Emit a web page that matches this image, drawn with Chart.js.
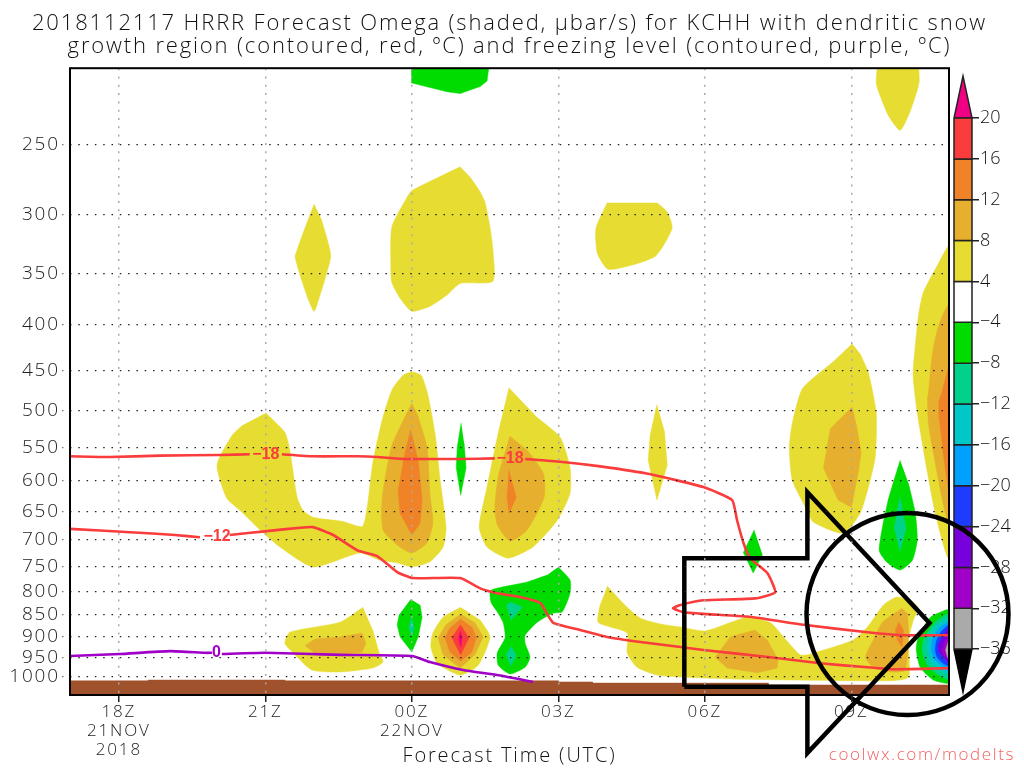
<!DOCTYPE html>
<html>
<head>
<meta charset="utf-8">
<style>
  body { margin: 0; background: #fff; }
  canvas { position: absolute; left: 0; top: 0; }
  #main { z-index: 2; }
</style>
<script src="https://cdn.jsdelivr.net/npm/chart.js@4/dist/chart.umd.min.js"></script>
</head>
<body>
<canvas id="bar" width="1024" height="768"></canvas>
<canvas id="main" width="1024" height="768"></canvas>
<script>
// x = hours counted from 00Z on 21 Nov, y = pressure in hPa
const titleLines = [
  '2018112117 HRRR Forecast Omega (shaded, μbar/s) for KCHH with dendritic snow',
  'growth region (contoured, red, ºC) and freezing level (contoured, purple, ºC)'
];
const xTicks = [18, 21, 24, 27, 30, 33];
const xLabels = [['18Z', '21NOV', '2018'], ['21Z'], ['00Z', '22NOV'], ['03Z'], ['06Z'], ['09Z']];
const yTicks = [250, 300, 350, 400, 450, 500, 550, 600, 650, 700, 750, 800, 850, 900, 950, 1000];

const barLabels = ['20', '16', '12', '8', '4', '−4', '−8', '−12', '−16', '−20', '−24', '−28', '−32', '−36'];
const barColors = ['#fa3c3c', '#f08228', '#e6af2d', '#e6dc32', '#ffffff', '#00dc00', '#00d28c', '#00c8c8', '#00a0ff', '#1e3cff', '#7800dc', '#a000c8', '#aaaaaa'];

const YELLOW = '#e6dc32', ORANGE = '#e6af2d', DARK = '#f08228', RED = '#fa3c3c', PINK = '#f00082';
const GREEN = '#00dc00', TEAL = '#00d28c', CYAN = '#00c8c8', AZURE = '#00a0ff', BLUE = '#1e3cff';
const VIOLET = '#7800dc', PURPLE = '#a000c8', GRAY = '#aaaaaa';

// omega contours
const greenTop = [[24,200],[24,213],[24.72,218],[24.99,219],[25.4,215],[25.54,212],[25.6,200]];
const yellowTopRight = [[33.55,200],[33.51,213],[33.6,221],[33.76,232],[34,241],[34.21,229],[34.35,217],[34.39,212],[34.37,200]];
const yellowLens = [[22,292],[21.81,311],[21.65,329],[21.61,335],[21.71,351],[21.87,373],[22,386],[22.12,370],[22.26,349],[22.34,334],[22.26,319],[22.14,303]];
const yellowUpper = [[24.99,265],[24,282],[23.9,287],[23.59,310],[23.57,344],[23.59,358],[23.76,373],[24,386],[24.37,381],[24.72,370],[24.99,359],[25.66,357],[25.66,329],[25.6,310],[25.5,291],[25.4,283],[25.19,272]];
const yellowCloud = [[28,291],[27.77,311],[27.8,332],[28.02,346],[28.53,342],[29,334],[29.33,311],[29.23,298],[29.02,291]];

const yellowWide = [[21.01,503],[21.4,529],[21.5,554],[21.65,626],[21.77,648],[21.98,660],[22.59,667],[23,675],[23.2,573],[23.39,513],[23.59,474],[23.82,456],[24,452],[24.19,456],[24.33,480],[24.48,533],[24.58,599],[24.7,677],[24.64,713],[24.37,741],[24,751],[23.7,743],[23.35,738],[22.94,724],[21.98,751],[21.3,713],[20.89,682],[20.48,648],[20.21,628],[20.01,576],[20.32,533],[20.54,519]];
const orangeMid = [[24,490],[23.61,544],[23.49,580],[23.39,631],[23.41,682],[23.7,709],[24,724],[24.31,705],[24.43,670],[24.37,620],[24.31,550],[24.11,504]];
const darkMid = [[23.98,525],[23.86,558],[23.72,615],[23.76,653],[24,691],[24.17,670],[24.21,631],[24.13,569]];
const greenSliver = [[25.01,516],[24.93,550],[24.91,580],[25,623],[25.11,580],[25.07,544]];
const yellowTwin = [[25.99,471],[25.75,536],[25.54,610],[25.38,677],[25.54,713],[25.97,734],[26.48,713],[26.98,665],[27.24,620],[27.24,580],[27.04,536],[26.57,509]];
const orangeTwin = [[26.01,534],[25.77,594],[25.7,643],[25.75,673],[26.01,702],[26.36,682],[26.71,626],[26.69,588],[26.36,554]];
const darkTwin = [[25.99,584],[25.95,626],[25.99,653],[26.14,626]];
const yellowSliver = [[29.02,492],[28.88,533],[28.84,569],[29.02,631],[29.23,576],[29.17,526]];

const yellowNine = [[33.02,420],[32.61,441],[32,472],[31.79,517],[31.73,550],[31.79,599],[32.06,643],[32.22,668],[32.84,688],[33.18,653],[33.35,610],[33.49,564],[33.51,503],[33.35,453],[33.18,431]];
const orangeNine = [[33.02,495],[32.57,524],[32.43,580],[32.73,631],[33,643],[33.14,588],[33.2,558],[33.1,517]];
const greenTen = [[34,569],[33.74,636],[33.57,719],[33.74,743],[34,757],[34.25,738],[34.35,700],[34.31,653],[34.17,604]];
const tealTen = [[34,625],[33.88,678],[34,721],[34.12,678]];
const yellowEdge = [[35.2,325],[35,325],[34.78,341],[34.47,368],[34.37,392],[34.27,447],[34.27,462],[34.35,503],[34.56,588],[34.72,653],[34.98,734],[35.2,734]];
const orangeEdge = [[35.2,380],[34.98,380],[34.78,402],[34.66,431],[34.58,478],[34.56,483],[34.58,517],[34.72,573],[34.88,636],[34.98,665],[35.2,665]];
const darkEdge = [[35.2,448],[34.98,448],[34.85,478],[34.8,487],[34.8,509],[34.88,558],[34.98,610],[35.2,610]];

const yellowLow = [[23,834],[22.53,867],[21.5,890],[21.4,916],[21.57,939],[21.95,982],[22.53,987],[23.2,977],[23.41,962],[23.33,939],[23.2,885]];
const orangeLow = [[21.81,922],[22.02,906],[22.53,901],[22.98,892],[23.06,916],[22.98,937],[22.53,944],[22.08,947]];
const greenZero = [[23.98,817],[23.74,851],[23.7,873],[23.76,901],[24,937],[24.13,901],[24.21,856],[24.17,829]];
const tealZero = [[24,856],[23.94,878],[24,900],[24.05,878]];

const hotYellow = [[25,834],[24.64,856],[24.43,892],[24.39,925],[24.52,965],[24.99,995],[25.36,970],[25.6,901],[25.4,862]];
const hotOrange = [[25,849],[24.7,873],[24.54,903],[24.64,944],[24.99,977],[25.29,944],[25.46,901],[25.29,868]];
const hotDark = [[25,860],[24.78,880],[24.68,903],[24.78,937],[25,960],[25.23,937],[25.32,903],[25.23,878]];
const hotRed = [[25,873],[24.82,903],[25,944],[25.17,903]];
const hotPink = [[25,887],[24.96,903],[25,925],[25.03,903]];

const greenTwo = [[27,751],[27.24,777],[27.24,804],[27.08,844],[26.89,847],[26.57,867],[26.32,897],[26.32,916],[26.42,950],[26.32,975],[26.01,992],[25.77,970],[25.75,939],[25.91,903],[25.87,868],[25.75,844],[25.62,823],[25.62,798],[26.36,781],[26.77,767]];
const tealTwoUp = [[25.93,829],[26.03,823],[26.26,834],[26.03,862]];
const tealTwoLow = [[26.03,923],[25.93,944],[26.03,972],[26.14,944]];
const greenSeven = [[31.01,682],[30.79,723],[30.99,763],[31.18,727]];

const yellowLong = [[28,789],[28.41,834],[28.68,858],[29.09,871],[29.5,878],[30.01,887],[30.87,856],[31.34,868],[31.61,901],[31.95,944],[32.1,944],[33.04,908],[33.33,878],[33.66,829],[33.94,812],[34.27,823],[34.37,836],[34.27,862],[34.17,908],[34.17,1000],[33.74,1010],[30.46,1005],[29.5,1000],[29.02,995],[28.61,975],[28.41,939],[28.41,892],[27.82,868],[27.84,836],[27.92,812]];
const orangeSeven = [[31.03,885],[30.52,901],[30.21,950],[30.46,977],[31.07,989],[31.48,977],[31.5,957],[31.28,908]];
const orangeTen = [[34.04,836],[33.64,867],[33.45,908],[33.29,950],[33.45,975],[33.8,987],[34.1,982],[34.17,892],[34.15,847]];
const darkTen = [[33.98,867],[33.9,885],[33.94,908],[34.04,925],[34.07,885]];

const eyeGreen = [[35.2,838],[35,838],[34.62,856],[34.37,901],[34.33,932],[34.41,975],[34.68,1008],[35,1018],[35.2,1018]];
const eyeTeal = [[35.2,847],[35,847],[34.72,867],[34.5,901],[34.45,932],[34.56,970],[34.78,995],[35,1008],[35.2,1008]];
const eyeCyan = [[35.2,858],[35,858],[34.76,873],[34.58,903],[34.56,932],[34.62,962],[34.82,982],[35,995],[35.2,995]];
const eyeAzure = [[35.2,867],[35,867],[34.8,880],[34.66,908],[34.64,932],[34.7,954],[34.86,972],[35,985],[35.2,985]];
const eyeBlue = [[35.2,873],[35,873],[34.82,892],[34.74,913],[34.72,932],[34.76,950],[34.88,965],[35,972],[35.2,972]];
const eyeViolet = [[35.2,880],[35,880],[34.88,901],[34.8,916],[34.78,932],[34.84,944],[34.93,954],[35,965],[35.2,965]];
const eyePurple = [[35.2,897],[35,897],[34.91,913],[34.86,932],[34.88,944],[35,957],[35.2,957]];
const eyeGray = [[35.2,906],[35,906],[34.95,925],[34.93,932],[34.97,950],[35,954],[35.2,954]];

// ground along the bottom of the section
const terrain = [[17,1060],[17,1010],[18.6,1010],[18.6,1008],[21.4,1008],[21.4,1010],[27,1010],[27,1013],[27.7,1013],[27.7,1016],[31.3,1016],[31.3,1021],[35,1021],[35,1060]];

// -18C and -12C lines, split where the labels sit
const red18a = [[17,563],[17.82,564],[18.84,562],[20.07,561],[20.68,560]];
const red18b = [[21.34,560],[21.98,563],[22.88,563],[23.29,564],[23.82,567],[24,567],[24.43,567],[24.99,567],[25.7,566]];
const red18c = [[26.32,567],[27.04,571],[27.86,578],[28.89,590],[29.97,610],[30.56,631],[30.66,665],[30.79,705],[30.93,734],[31.28,763],[31.44,802],[31.03,815],[29.97,819],[29.5,829],[29.35,836],[29.56,845],[30.05,849],[30.99,856],[32.02,873],[33.33,890],[34.07,897],[35.03,897]];
const red12a = [[17,680],[18.23,686],[19.15,691],[19.66,695]];
const red12b = [[20.27,691],[21.03,684],[21.71,678],[21.98,677],[22.39,691],[22.88,719],[23.29,730],[23.7,761],[24.02,773],[24.99,773],[25.4,794],[25.75,804],[26.22,812],[26.63,825],[26.89,868],[27.45,885],[28,901],[28.68,913],[29.5,925],[29.97,932],[31.34,950],[32.36,965],[33.33,975],[33.86,980],[35.03,977]];
// freezing level
const purple0a = [[17,947],[18.02,942],[19.05,935],[19.76,939],[19.91,939]];
const purple0b = [[20.11,942],[21,939],[22.53,944],[24,947],[24.37,962],[25.05,982],[25.75,995],[26.48,1013]];

const lineLabels = ['−18', '−18', '−12', '0'];
const lineLabelX = [21.01, 26.01, 20.01, 20];
const lineLabelP = [561, 566, 693, 939];
const lineLabelColors = ['#fa3c3c', '#fa3c3c', '#fa3c3c', '#a000c8'];

// the big arrow and ring drawn over the plot
const arrow = [[29.58,1026],[29.58,734],[32.1,734],[32.1,618],[34.6,869],[32.1,1219],[32.1,1026],[29.58,1026]];
const ring = [[34.15,849]];

const FONT = '"Open Sans", "DejaVu Sans", sans-serif';

function toPoints(list) {
  return list.map(function (p) { return { x: p[0], y: p[1] }; });
}

// small diamonds keep their corners, the bigger contours get rounded a little
function poly(list, color) {
  return { data: toPoints(list), showLine: true, fill: 'shape', tension: list.length > 8 ? 0.2 : 0, pointRadius: 0,
    backgroundColor: color, borderColor: color, borderWidth: 0.5 };
}

function curve(list, color) {
  return { data: toPoints(list), showLine: true, fill: false, tension: 0.15, pointRadius: 0,
    borderColor: color, borderWidth: 2.6 };
}

const ground = poly(terrain, '#a0522d');
ground.tension = 0;

// listed back to front
const layers = [
  poly(greenTop, GREEN), poly(yellowTopRight, YELLOW), poly(yellowLens, YELLOW), poly(yellowUpper, YELLOW), poly(yellowCloud, YELLOW),
  poly(yellowWide, YELLOW), poly(orangeMid, ORANGE), poly(darkMid, DARK), poly(greenSliver, GREEN),
  poly(yellowTwin, YELLOW), poly(orangeTwin, ORANGE), poly(darkTwin, DARK), poly(yellowSliver, YELLOW),
  poly(yellowNine, YELLOW), poly(orangeNine, ORANGE), poly(greenTen, GREEN), poly(tealTen, TEAL),
  poly(yellowEdge, YELLOW), poly(orangeEdge, ORANGE), poly(darkEdge, DARK),
  poly(yellowLow, YELLOW), poly(orangeLow, ORANGE), poly(greenZero, GREEN), poly(tealZero, TEAL),
  poly(hotYellow, YELLOW), poly(hotOrange, ORANGE), poly(hotDark, DARK), poly(hotRed, RED), poly(hotPink, PINK),
  poly(greenTwo, GREEN), poly(tealTwoUp, TEAL), poly(tealTwoLow, TEAL), poly(greenSeven, GREEN),
  poly(yellowLong, YELLOW), poly(orangeSeven, ORANGE), poly(orangeTen, ORANGE), poly(darkTen, DARK),
  poly(eyeGreen, GREEN), poly(eyeTeal, TEAL), poly(eyeCyan, CYAN), poly(eyeAzure, AZURE), poly(eyeBlue, BLUE),
  poly(eyeViolet, VIOLET), poly(eyePurple, PURPLE), poly(eyeGray, GRAY),
  ground,
  curve(red18a, RED), curve(red18b, RED), curve(red18c, RED), curve(red12a, RED), curve(red12b, RED),
  curve(purple0a, PURPLE), curve(purple0b, PURPLE),
  { data: toPoints(arrow), showLine: true, fill: false, tension: 0, pointRadius: 0, borderColor: '#000', borderWidth: 4.5,
    borderJoinStyle: 'miter', clip: false },
  { data: toPoints(ring), showLine: false, pointRadius: 101, pointBorderWidth: 4.5, pointBorderColor: '#000',
    pointBackgroundColor: 'transparent', clip: false }
];
// Chart.js paints the first dataset last
layers.forEach(function (d, i) { d.order = layers.length - i; });

const extras = {
  id: 'extras',
  beforeDraw: function (chart) {
    chart.ctx.letterSpacing = '1.85px';
  },
  afterDraw: function (chart) {
    const ctx = chart.ctx, a = chart.chartArea;
    ctx.save();
    ctx.strokeStyle = '#000';
    ctx.lineWidth = 2;
    ctx.strokeRect(a.left, a.top, a.right - a.left, a.bottom - a.top);

    // contour labels
    ctx.font = 'bold 16px "Liberation Sans", sans-serif';
    ctx.letterSpacing = '0px';
    ctx.textAlign = 'center';
    ctx.textBaseline = 'middle';
    lineLabels.forEach(function (t, i) {
      ctx.fillStyle = lineLabelColors[i];
      ctx.fillText(t, chart.scales.x.getPixelForValue(lineLabelX[i]), chart.scales.y.getPixelForValue(lineLabelP[i]));
    });

    ctx.font = '300 17px ' + FONT;
    ctx.letterSpacing = '1.6px';
    ctx.fillStyle = '#f46464';
    ctx.textAlign = 'right';
    ctx.fillText('coolwx.com/modelts', 1015, 755);
    ctx.restore();
  }
};

new Chart(document.getElementById('main'), {
  type: 'scatter',
  data: { datasets: layers },
  plugins: [extras],
  options: {
    responsive: false,
    animation: false,
    layout: { autoPadding: false, padding: { left: 0, right: 5, top: 0, bottom: 0 } },
    plugins: {
      legend: { display: false },
      tooltip: { enabled: false },
      title: {
        display: true,
        text: titleLines,
        color: '#111',
        font: { family: FONT, size: 22, weight: 300, lineHeight: 1.05 },
        padding: { top: 12, bottom: 10 }
      }
    },
    scales: {
      x: {
        type: 'linear',
        min: 17,
        max: 35,
        afterBuildTicks: function (s) { s.ticks = xTicks.map(function (v) { return { value: v }; }); },
        afterFit: function (s) { s.height = 73; },
        grid: { color: '#aaa', lineWidth: 1.5, z: 1, tickLength: 7, tickColor: '#222', tickBorderDash: [] },
        border: { display: false, dash: [2, 6.3] },
        ticks: {
          color: '#222',
          autoSkip: false,
          maxRotation: 0,
          padding: 1,
          font: { family: FONT, size: 17, weight: 300, lineHeight: 1.1 },
          callback: function (v) { return xLabels[xTicks.indexOf(v)]; }
        },
        title: {
          display: true,
          text: 'Forecast Time (UTC)',
          color: '#111',
          font: { family: FONT, size: 20, weight: 300 },
          padding: { top: 0, bottom: 0 }
        }
      },
      y: {
        type: 'logarithmic',
        reverse: true,
        min: 205,
        max: 1048,
        afterBuildTicks: function (s) { s.ticks = yTicks.map(function (v) { return { value: v }; }); },
        afterFit: function (s) { s.width = 70; },
        grid: { color: '#222', lineWidth: 1.2, z: 1, tickLength: 8, tickColor: '#777', tickBorderDash: [1.5, 6.8] },
        border: { display: false, dash: [1.5, 6.8] },
        ticks: {
          color: '#222',
          autoSkip: false,
          padding: 2,
          font: { family: FONT, size: 19, weight: 300 },
          callback: function (v) { return String(v); }
        }
      },
      // empty axis that keeps room for the colour key, so the title centres on the whole page
      yRight: {
        type: 'linear',
        position: 'right',
        afterFit: function (s) { s.width = 70; },
        grid: { drawOnChartArea: false, drawTicks: false },
        border: { display: false },
        ticks: { display: false }
      }
    }
  }
});

// colour key, on its own canvas so the ring can pass over it
const keyBoxes = barColors.map(function (c, i) {
  return { data: toPoints([[0, i], [1, i], [1, i + 1], [0, i + 1], [0, i]]), showLine: true, fill: 'shape', pointRadius: 0,
    backgroundColor: c, borderColor: '#222', borderWidth: 1.5, clip: false };
});
const keyTop = [[0, 0], [0.5, -1.03], [1, 0], [0, 0]];
const keyBottom = [[0, 13], [0.5, 14.05], [1, 13], [0, 13]];
keyBoxes.push({ data: toPoints(keyTop), showLine: true, fill: 'shape', pointRadius: 0, backgroundColor: PINK, borderColor: '#222', borderWidth: 1.5, clip: false });
keyBoxes.push({ data: toPoints(keyBottom), showLine: true, fill: 'shape', pointRadius: 0, backgroundColor: '#000', borderColor: '#000', borderWidth: 1.5, clip: false });

new Chart(document.getElementById('bar'), {
  type: 'scatter',
  data: { datasets: keyBoxes },
  options: {
    responsive: false,
    animation: false,
    layout: { autoPadding: false, padding: { left: 954, right: 0, top: 76, bottom: 76 } },
    plugins: { legend: { display: false }, tooltip: { enabled: false } },
    scales: {
      x: { type: 'linear', display: false, min: 0, max: 1 },
      y: {
        type: 'linear',
        position: 'right',
        reverse: true,
        min: -1.03,
        max: 14.05,
        afterBuildTicks: function (s) { s.ticks = barLabels.map(function (t, i) { return { value: i }; }); },
        afterFit: function (s) { s.width = 52; },
        grid: { drawOnChartArea: false, tickLength: 7, tickColor: '#222', lineWidth: 1.5 },
        border: { display: false },
        ticks: {
          color: '#111',
          autoSkip: false,
          padding: 1,
          font: { family: FONT, size: 18, weight: 300 },
          callback: function (v) { return barLabels[v]; }
        }
      }
    }
  }
});
</script>
</body>
</html>
